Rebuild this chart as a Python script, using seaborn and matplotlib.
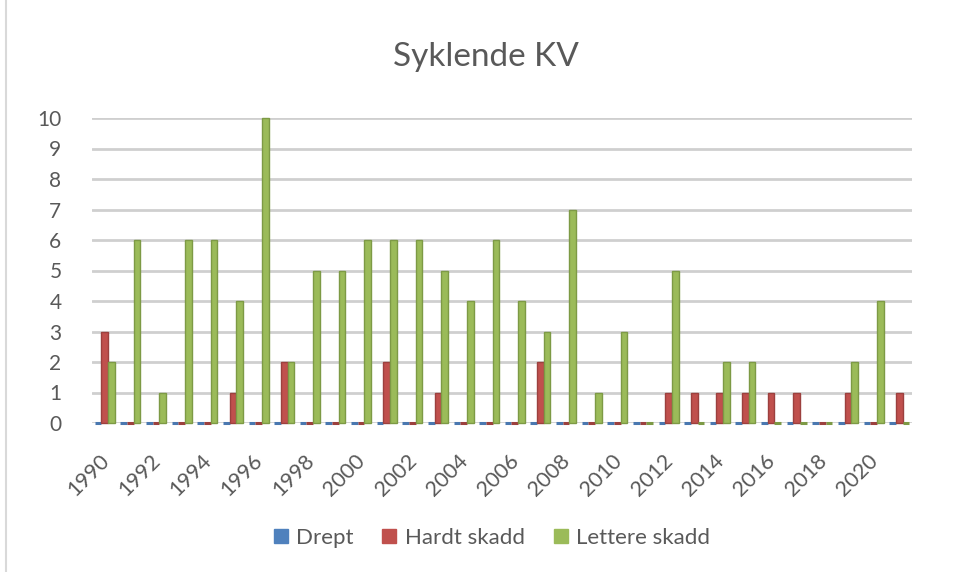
import matplotlib
matplotlib.use("Agg")
import matplotlib.pyplot as plt
import matplotlib.transforms as mtransforms
from matplotlib.lines import Line2D
import seaborn as sns
import pandas as pd

# Cyclist casualties per year
years = list(range(1990, 2022))
drept = [0] * 32
hardt_skadd = [3, 0, 0, 0, 0, 1, 0, 2, 0, 0, 0, 2, 0, 1, 0, 0,
               0, 2, 0, 0, 0, 0, 1, 1, 1, 1, 1, 1, 0, 1, 0, 1]
lettere_skadd = [2, 6, 1, 6, 6, 4, 10, 2, 5, 5, 6, 6, 6, 5, 4, 6,
                 4, 3, 7, 1, 3, 0, 5, 0, 2, 2, 0, 0, 0, 2, 4, 0]
series_names = ["Drept", "Hardt skadd", "Lettere skadd"]
colors = ["#4f81bd", "#c0504d", "#9bbb59"]
edge_colors = ["#4a78b0", "#9c403e", "#7d9a45"]

df = pd.DataFrame({
    "År": years * 3,
    "Antall": drept + hardt_skadd + lettere_skadd,
    "Serie": [series_names[0]] * 32 + [series_names[1]] * 32 + [series_names[2]] * 32,
})

sns.set_theme(style="white")
plt.rcParams["font.family"] = ["Lato", "DejaVu Sans"]
text_color = "#595959"

fig = plt.figure(figsize=(9.54, 5.72), dpi=100)
ax = fig.add_axes([92 / 954, 1 - 423 / 572, (912 - 92) / 954, (423 - 118) / 572])

sns.barplot(data=df, x="År", y="Antall", hue="Serie", order=years,
            hue_order=series_names, palette=colors, width=0.78,
            saturation=1, legend=False, ax=ax, zorder=3)

# Outline every bar so that zero values still show as a thin stub on the floor
for cont, ec in zip(ax.containers, edge_colors):
    for bar in cont:
        bar.set_edgecolor(ec)
        bar.set_linewidth(1.0 if bar.get_height() > 0 else 2.2)
        bar.set_clip_on(False)

ax.set_ylim(0, 10)
ax.set_xlim(-0.5, len(years) - 0.5)
ax.set_yticks(range(0, 11))
ax.yaxis.grid(True, color="#cfcfcf", linewidth=2, zorder=0)
ax.set_axisbelow(True)
for s in ax.spines.values():
    s.set_visible(False)

ax.set_xticks(range(0, len(years), 2))
ax.set_xticklabels([str(y) for y in years[::2]], rotation=45, ha="right",
                   rotation_mode="anchor")
ax.tick_params(axis="x", length=0, pad=20, labelsize=15.5, labelcolor=text_color)
ax.tick_params(axis="y", length=0, pad=22, labelsize=15, labelcolor=text_color)
shift = mtransforms.ScaledTranslation(-6 / 100, 0, fig.dpi_scale_trans)
for lbl in ax.get_xticklabels():
    lbl.set_transform(lbl.get_transform() + shift)
ax.set_xlabel("")
ax.set_ylabel("")

fig.text(486 / 954, 1 - 57 / 572, "Syklende KV", ha="center", va="center",
         fontsize=24, color=text_color)

handles = [Line2D([], [], marker="s", linestyle="none", markersize=10.5,
                  markerfacecolor=c, markeredgecolor=c) for c in colors]
fig.legend(handles, series_names, loc="center", ncol=3,
           bbox_to_anchor=(491 / 954, 1 - 538 / 572), frameon=False,
           fontsize=16, labelcolor=text_color, handlelength=0.8,
           handletextpad=0.3, columnspacing=1.2)

# Chart area border on the left side
fig.add_artist(Line2D([6 / 954, 6 / 954], [0, 1], color="#d9d9d9",
                      linewidth=1.5, transform=fig.transFigure))

fig.savefig("out.png", dpi=100, facecolor="white")
